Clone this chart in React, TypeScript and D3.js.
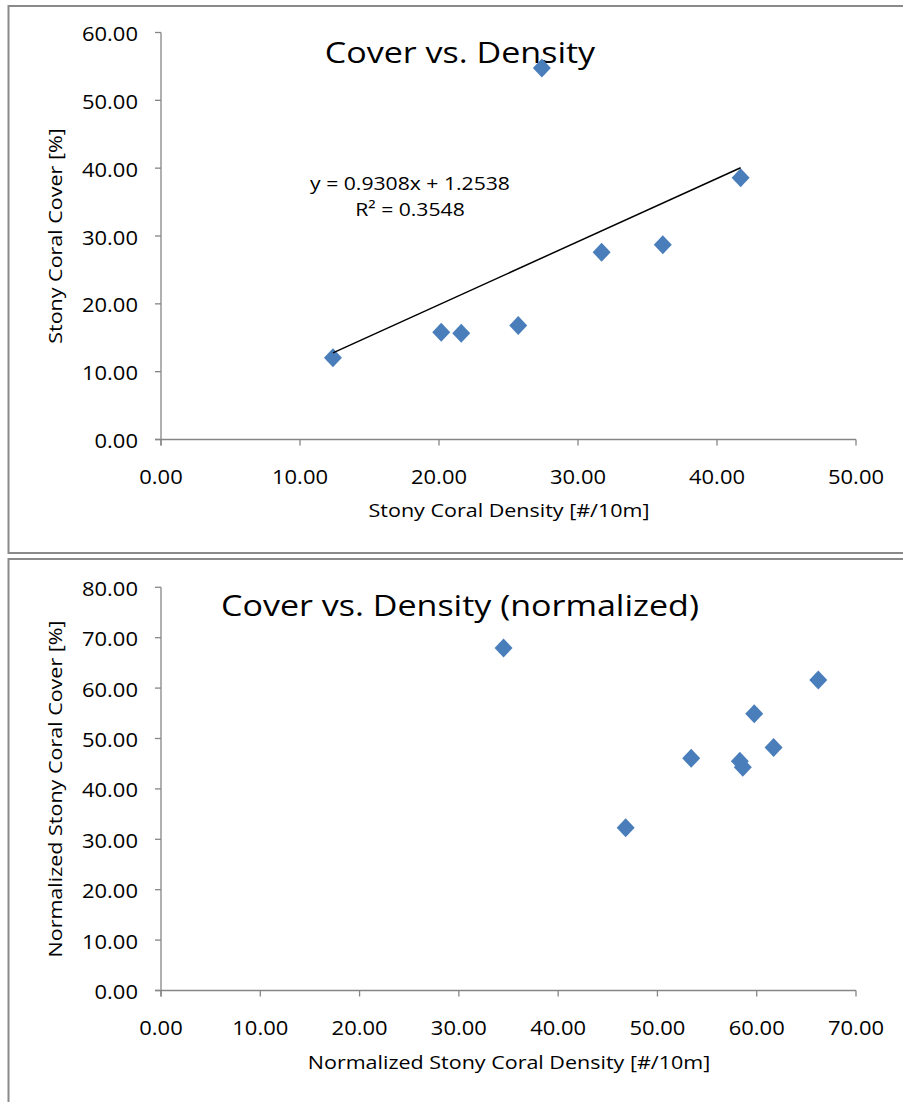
import React from "react";
import * as d3 from "d3";

// ---- data ----
const densityTop = [12.37, 20.16, 21.6, 25.7, 31.7, 36.1, 41.7, 27.4];
const coverTop = [12.06, 15.8, 15.66, 16.8, 27.6, 28.7, 38.6, 54.75];
const topXTicks = [0, 10, 20, 30, 40, 50];
const topYTicks = [0, 10, 20, 30, 40, 50, 60];
const trendSlope = 0.9308;
const trendIntercept = 1.2538;
const trendEquation = "y = 0.9308x + 1.2538";
const trendR2 = "R² = 0.3548";

const densityNorm = [34.5, 66.2, 59.75, 61.7, 53.4, 58.3, 58.6, 46.8];
const coverNorm = [67.96, 61.6, 54.9, 48.2, 46.07, 45.5, 44.3, 32.3];
const normXTicks = [0, 10, 20, 30, 40, 50, 60, 70];
const normYTicks = [0, 10, 20, 30, 40, 50, 60, 70, 80];

const titles = ["Cover vs. Density", "Cover vs. Density (normalized)"];
const xTitles = ["Stony Coral Density [#/10m]", "Normalized Stony Coral Density [#/10m]"];
const yTitles = ["Stony Coral Cover [%]", "Normalized Stony Coral Cover [%]"];

// ---- style ----
const FONT = "'Open Sans', 'Noto Sans', sans-serif";
const SX = 1.15;
const AXIS = "#868686";
const MARK = "#4A7EBB";
const fmt = d3.format(".2f");

function SText(props: {
  x: number;
  y: number;
  size: number;
  anchor?: string;
  rotate?: number;
  children: React.ReactNode;
}) {
  const { x, y, size, anchor = "middle", rotate = 0, children } = props;
  return (
    <text
      transform={`translate(${x},${y}) rotate(${rotate}) scale(${SX},1)`}
      fontSize={size}
      fontFamily={FONT}
      textAnchor={anchor}
      fill="#000"
    >
      {children}
    </text>
  );
}

function diamond(cx: number, cy: number) {
  const w = 9,
    h = 9.5;
  return `M${cx},${cy - h}L${cx + w},${cy}L${cx},${cy + h}L${cx - w},${cy}Z`;
}

function Chart(props: {
  xs: number[];
  ys: number[];
  xTicks: number[];
  yTicks: number[];
  yTop: number;
  yBottom: number;
  title: string;
  titleY: number;
  xTitle: string;
  xTitleY: number;
  yTitle: string;
  trend?: boolean;
}) {
  const { xs, ys, xTicks, yTicks, yTop, yBottom } = props;
  const x = d3
    .scaleLinear()
    .domain([xTicks[0], xTicks[xTicks.length - 1]])
    .range([161, 856]);
  const y = d3
    .scaleLinear()
    .domain([yTicks[0], yTicks[yTicks.length - 1]])
    .range([yBottom, yTop]);
  const x0 = x.range()[0];
  const trendX = d3.extent(xs) as [number, number];
  const line = d3
    .line<number>()
    .x((d) => x(d))
    .y((d) => y(trendSlope * d + trendIntercept));
  return (
    <g>
      {/* axes */}
      <line x1={x0} x2={x0} y1={yTop} y2={yBottom + 6} stroke={AXIS} strokeWidth={1.3} />
      <line x1={x0 - 6} x2={x.range()[1]} y1={yBottom} y2={yBottom} stroke={AXIS} strokeWidth={1.3} />
      {yTicks.map((t) => (
        <g key={"y" + t}>
          <line x1={x0 - 6} x2={x0} y1={y(t)} y2={y(t)} stroke={AXIS} strokeWidth={1.3} />
          <SText x={x0 - 23} y={y(t) + 8.5} size={19.1} anchor="end">
            {fmt(t)}
          </SText>
        </g>
      ))}
      {xTicks.map((t) => (
        <g key={"x" + t}>
          <line x1={x(t)} x2={x(t)} y1={yBottom} y2={yBottom + 6} stroke={AXIS} strokeWidth={1.3} />
          <SText x={x(t)} y={yBottom + 44} size={19.1}>
            {fmt(t)}
          </SText>
        </g>
      ))}
      {/* titles */}
      <SText x={460} y={props.titleY} size={29.6}>
        {props.title}
      </SText>
      <SText x={509} y={props.xTitleY} size={18.7}>
        {props.xTitle}
      </SText>
      <SText x={62} y={(yTop + yBottom) / 2} size={18.7} rotate={-90}>
        {props.yTitle}
      </SText>
      {/* points */}
      {xs.map((d, i) => (
        <path key={"p" + i} d={diamond(x(d), y(ys[i]))} fill={MARK} />
      ))}
      {props.trend && (
        <g>
          <path d={line(trendX) || ""} stroke="#000" strokeWidth={1.5} fill="none" />
          <SText x={410} y={190} size={18.4}>
            {trendEquation}
          </SText>
          <SText x={410} y={216} size={18.4}>
            {trendR2}
          </SText>
        </g>
      )}
    </g>
  );
}

export default function App() {
  return (
    <svg
      width={903}
      height={1102}
      style={{ position: "absolute", left: 0, top: 0, background: "#fff" }}
    >
      <rect x={0} y={0} width={903} height={1102} fill="#fff" />
      <rect x={8.5} y={6} width={910} height={547} fill="#fff" stroke="#8a8a8a" strokeWidth={2} />
      <rect x={8.5} y={559} width={910} height={560} fill="#fff" stroke="#8a8a8a" strokeWidth={2} />
      <Chart
        xs={densityTop}
        ys={coverTop}
        xTicks={topXTicks}
        yTicks={topYTicks}
        yTop={32.5}
        yBottom={439.5}
        title={titles[0]}
        titleY={63}
        xTitle={xTitles[0]}
        xTitleY={517}
        yTitle={yTitles[0]}
        trend
      />
      <Chart
        xs={densityNorm}
        ys={coverNorm}
        xTicks={normXTicks}
        yTicks={normYTicks}
        yTop={587.3}
        yBottom={990.5}
        title={titles[1]}
        titleY={616}
        xTitle={xTitles[1]}
        xTitleY={1069}
        yTitle={yTitles[1]}
      />
    </svg>
  );
}
